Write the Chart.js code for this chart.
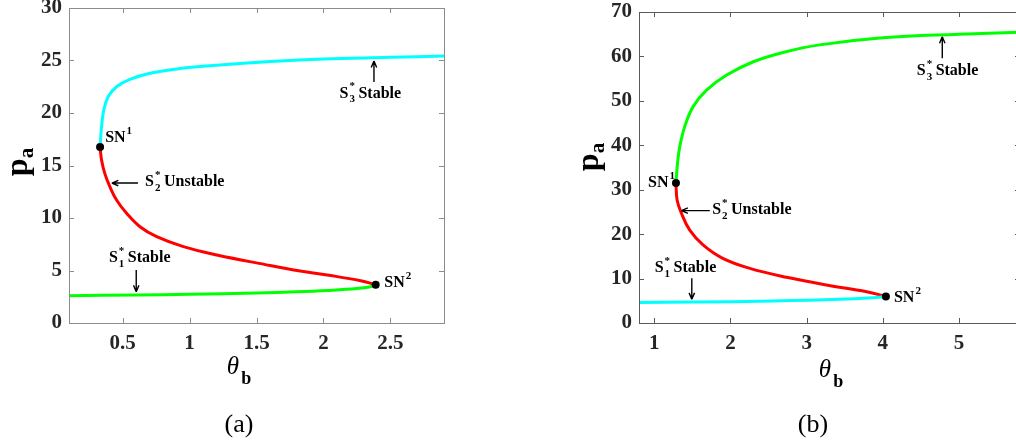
<!DOCTYPE html>
<html>
<head>
<meta charset="utf-8">
<title>Bifurcation diagrams</title>
<script src="https://cdn.jsdelivr.net/npm/chart.js@4.4.1/dist/chart.umd.min.js"></script>
<style>
html, body { margin: 0; padding: 0; background: #fff; overflow: hidden; width: 1016px; height: 447px; }
canvas { position: absolute; top: 0; }
#chartA { left: 0; }
#chartB { left: 540px; }
</style>
</head>
<body>
<canvas id="chartA" width="460" height="447"></canvas>
<canvas id="chartB" width="500" height="447"></canvas>
<script>
// ---- panel (a) ----
var xTicksA = [0.5, 1, 1.5, 2, 2.5];
var xTickLabelsA = ['0.5', '1', '1.5', '2', '2.5'];
var yTicksA = [0, 5, 10, 15, 20, 25, 30];
var yTickLabelsA = ['0', '5', '10', '15', '20', '25', '30'];

// S1* (lower stable branch)
var s1ThetaA = [0.1, 0.6, 1.0, 1.5, 1.8, 2.03, 2.25, 2.35, 2.39];
var s1PaA    = [2.6, 2.67, 2.73, 2.85, 2.97, 3.1, 3.28, 3.45, 3.65];
// S2* (unstable branch)
var s2ThetaA = [0.332, 0.343, 0.367, 0.405, 0.455, 0.53, 0.63, 0.755, 0.954, 1.204, 1.6, 1.778, 2.028, 2.278, 2.39];
var s2PaA    = [16.76, 15.52, 14.25, 12.98, 11.71, 10.45, 9.17, 8.22, 7.27, 6.48, 5.48, 5.05, 4.57, 4.03, 3.65];
// S3* (upper stable branch)
var s3ThetaA = [0.332, 0.343, 0.36, 0.392, 0.455, 0.555, 0.705, 0.905, 1.154, 1.603, 2.0, 2.5, 2.9];
var s3PaA    = [16.76, 18.7, 20.3, 21.55, 22.5, 23.2, 23.78, 24.19, 24.5, 24.9, 25.15, 25.3, 25.43];
// saddle-node points
var snThetaA = [0.332, 2.39];
var snPaA    = [16.76, 3.65];

// ---- panel (b) ----
var xTicksB = [1, 2, 3, 4, 5];
var xTickLabelsB = ['1', '2', '3', '4', '5'];
var yTicksB = [0, 10, 20, 30, 40, 50, 60, 70];
var yTickLabelsB = ['0', '10', '20', '30', '40', '50', '60', '70'];

var s1ThetaB = [0.8, 1.47, 2.56, 3.44, 3.875, 4.04];
var s1PaB    = [4.6, 4.7, 4.95, 5.33, 5.7, 5.95];
var s2ThetaB = [1.285, 1.30, 1.357, 1.466, 1.64, 1.90, 2.255, 2.737, 3.26, 3.788, 4.04];
var s2PaB    = [31.5, 27.7, 24.7, 20.9, 17.6, 14.56, 12.3, 10.28, 8.55, 7.05, 5.95];
var s3ThetaB = [1.285, 1.305, 1.335, 1.40, 1.51, 1.686, 1.95, 2.30, 2.69, 3.17, 4.0, 5.0, 5.8];
var s3PaB    = [31.5, 35.9, 39.7, 44.2, 48.7, 52.4, 55.8, 58.8, 60.9, 62.6, 64.2, 65.0, 65.45];
var snThetaB = [1.285, 4.04];
var snPaB    = [31.5, 5.95];

// annotations, in data units
var notesA = {
  sn: [{ x: 0.37, y: 17.6, n: '1' }, { x: 2.454, y: 3.8, n: '2' }],
  states: [
    { x: 0.668, y: 13.4, n: '2', word: 'Unstable' },
    { x: 0.398, y: 6.2, n: '1', word: 'Stable' },
    { x: 2.12, y: 21.85, n: '3', word: 'Stable' }
  ],
  arrows: [
    { x1: 0.615, y1: 13.33, x2: 0.42, y2: 13.33 },
    { x1: 0.602, y1: 5.05, x2: 0.602, y2: 2.98 },
    { x1: 2.377, y1: 22.95, x2: 2.377, y2: 24.95 }
  ]
};
var notesB = {
  sn: [{ x: 0.918, y: 31.5, n: '1' }, { x: 4.146, y: 5.7, n: '2' }],
  states: [
    { x: 1.76, y: 25.4, n: '2', word: 'Unstable' },
    { x: 1.006, y: 12.45, n: '1', word: 'Stable' },
    { x: 4.445, y: 56.7, n: '3', word: 'Stable' }
  ],
  arrows: [
    { x1: 1.729, y1: 25.3, x2: 1.357, y2: 25.3 },
    { x1: 1.493, y1: 10.06, x2: 1.493, y2: 5.33 },
    { x1: 4.78, y1: 59.58, x2: 4.78, y2: 64.44 }
  ]
};

function pts(xs, ys) {
  return xs.map(function (x, i) { return { x: x, y: ys[i] }; });
}

var BOLD = 'bold 16px "Liberation Serif"';
var SMALL = 'bold 11px "Liberation Serif"';

function drawArrow(ctx, x1, y1, x2, y2) {
  var ang = Math.atan2(y2 - y1, x2 - x1);
  ctx.beginPath();
  ctx.moveTo(x1, y1);
  ctx.lineTo(x2, y2);
  ctx.moveTo(x2, y2);
  ctx.lineTo(x2 - 7 * Math.cos(ang - 0.4), y2 - 7 * Math.sin(ang - 0.4));
  ctx.moveTo(x2, y2);
  ctx.lineTo(x2 - 7 * Math.cos(ang + 0.4), y2 - 7 * Math.sin(ang + 0.4));
  ctx.stroke();
}

// box, inward ticks, labels and captions
var figDecor = {
  id: 'figDecor',
  afterDatasetsDraw: function (chart, args, o) {
    var ctx = chart.ctx, a = chart.chartArea;
    var xs = chart.scales.x, ys = chart.scales.y;
    ctx.save();
    ctx.strokeStyle = o.axisColor;
    ctx.lineWidth = 1;
    ctx.strokeRect(Math.round(a.left) + 0.5, Math.round(a.top) + 0.5,
      Math.round(a.right - a.left), Math.round(a.bottom - a.top));
    ctx.beginPath();
    xs.ticks.forEach(function (t) {
      var px = Math.round(xs.getPixelForValue(t.value)) + 0.5;
      ctx.moveTo(px, a.bottom); ctx.lineTo(px, a.bottom - o.tick);
      ctx.moveTo(px, a.top); ctx.lineTo(px, a.top + o.tick);
    });
    ys.ticks.forEach(function (t) {
      var py = Math.round(ys.getPixelForValue(t.value)) + 0.5;
      ctx.moveTo(a.left, py); ctx.lineTo(a.left + o.tick, py);
      ctx.moveTo(a.right, py); ctx.lineTo(a.right - o.tick, py);
    });
    ctx.stroke();

    ctx.fillStyle = '#000';
    ctx.strokeStyle = '#000';
    ctx.lineWidth = 1.4;
    ctx.textBaseline = 'middle';
    ctx.textAlign = 'left';
    o.notes.arrows.forEach(function (r) {
      drawArrow(ctx, xs.getPixelForValue(r.x1), ys.getPixelForValue(r.y1),
        xs.getPixelForValue(r.x2), ys.getPixelForValue(r.y2));
    });
    o.notes.sn.forEach(function (s) {
      var px = xs.getPixelForValue(s.x), py = ys.getPixelForValue(s.y);
      ctx.font = BOLD;
      ctx.fillText('SN', px, py);
      var w = ctx.measureText('SN').width;
      ctx.font = SMALL;
      ctx.fillText(s.n, px + w + 1, py - 7);
    });
    o.notes.states.forEach(function (s) {
      var px = xs.getPixelForValue(s.x), py = ys.getPixelForValue(s.y);
      ctx.font = BOLD;
      ctx.fillText('S', px, py);
      var w = ctx.measureText('S').width;
      ctx.font = SMALL;
      ctx.fillText('*', px + w + 1, py - 7);
      ctx.fillText(s.n, px + w + 1, py + 6);
      ctx.font = BOLD;
      ctx.fillText(s.word, px + w + 10, py);
    });

    // y title p_a
    ctx.save();
    ctx.translate(o.yTitle[0], o.yTitle[1]);
    ctx.rotate(-Math.PI / 2);
    ctx.textAlign = 'left';
    ctx.textBaseline = 'alphabetic';
    ctx.font = 'bold 32px "Liberation Serif"';
    var pw = ctx.measureText('p').width;
    ctx.font = 'bold 21px "Liberation Serif"';
    var aw = ctx.measureText('a').width;
    ctx.font = 'bold 32px "Liberation Serif"';
    ctx.fillText('p', -(pw + aw) / 2, 8);
    ctx.font = 'bold 21px "Liberation Serif"';
    ctx.fillText('a', -(pw + aw) / 2 + pw, 14);
    ctx.restore();

    // x title theta_b
    ctx.textBaseline = 'alphabetic';
    ctx.font = 'italic 25px "Liberation Serif"';
    var tw = ctx.measureText('\u03b8').width;
    ctx.font = 'bold 18px "Liberation Serif"';
    var bw = ctx.measureText('b').width;
    var x0 = o.xTitle[0] - (tw + bw + 2) / 2;
    ctx.font = 'italic 25px "Liberation Serif"';
    ctx.fillText('\u03b8', x0, o.xTitle[1]);
    ctx.font = 'bold 18px "Liberation Serif"';
    ctx.fillText('b', x0 + tw + 2, o.xTitle[1] + 10);

    // panel caption
    ctx.textAlign = 'center';
    ctx.textBaseline = 'middle';
    ctx.font = '26px "Liberation Serif"';
    ctx.fillText(o.caption, o.capPos[0], o.capPos[1]);
    ctx.restore();
  }
};

function makePanel(id, d) {
  return new Chart(document.getElementById(id), {
    type: 'scatter',
    data: {
      datasets: [
        { data: pts(d.snX, d.snY), showLine: false, pointRadius: 4, pointBackgroundColor: '#000', pointBorderWidth: 0 },
        { data: pts(d.s1X, d.s1Y), showLine: true, borderColor: d.c1, borderWidth: 3, pointRadius: 0, tension: 0.4 },
        { data: pts(d.s2X, d.s2Y), showLine: true, borderColor: '#ff0000', borderWidth: 3, pointRadius: 0, tension: 0.4 },
        { data: pts(d.s3X, d.s3Y), showLine: true, borderColor: d.c3, borderWidth: 3, pointRadius: 0, tension: 0.4 }
      ]
    },
    options: {
      responsive: false,
      animation: false,
      layout: { padding: d.pad },
      plugins: {
        legend: { display: false },
        tooltip: { enabled: false },
        figDecor: d.decor
      },
      scales: {
        x: {
          type: 'linear', min: d.xMin, max: d.xMax,
          grid: { display: false, drawTicks: false },
          border: { display: false },
          afterBuildTicks: function (s) { s.ticks = d.xTicks.map(function (v) { return { value: v }; }); },
          afterFit: function (s) { s.height = d.xAxisH; s.paddingLeft = 0; s.paddingRight = 0; },
          ticks: {
            autoSkip: false, maxRotation: 0, padding: 8, color: '#262626',
            font: { family: 'Liberation Serif', size: 21, weight: 'bold' },
            callback: function (v, i) { return d.xLabels[i]; }
          }
        },
        y: {
          type: 'linear', min: d.yMin, max: d.yMax,
          grid: { display: false, drawTicks: false },
          border: { display: false },
          afterBuildTicks: function (s) { s.ticks = d.yTicks.map(function (v) { return { value: v }; }); },
          afterFit: function (s) { s.width = d.yAxisW; s.paddingTop = 0; s.paddingBottom = 0; },
          ticks: {
            autoSkip: false, padding: 7, color: '#262626',
            font: { family: 'Liberation Serif', size: 21, weight: 'bold' },
            callback: function (v, i) { return d.yLabels[i]; }
          }
        }
      }
    },
    plugins: [figDecor]
  });
}

makePanel('chartA', {
  snX: snThetaA, snY: snPaA, s1X: s1ThetaA, s1Y: s1PaA, s2X: s2ThetaA, s2Y: s2PaA, s3X: s3ThetaA, s3Y: s3PaA,
  c1: '#00ff00', c3: '#00ffff',
  xMin: 0.1, xMax: 2.9, yMin: 0, yMax: 30,
  xTicks: xTicksA, xLabels: xTickLabelsA, yTicks: yTicksA, yLabels: yTickLabelsA,
  pad: { left: 0, right: 16, top: 8, bottom: 0 }, xAxisH: 124, yAxisW: 69,
  decor: { axisColor: '#8c8c8c', tick: 5, notes: notesA, yTitle: [19, 162], xTitle: [239, 374], caption: '(a)', capPos: [239, 425] }
});

makePanel('chartB', {
  snX: snThetaB, snY: snPaB, s1X: s1ThetaB, s1Y: s1PaB, s2X: s2ThetaB, s2Y: s2PaB, s3X: s3ThetaB, s3Y: s3PaB,
  c1: '#00ffff', c3: '#00ff00',
  xMin: 0.8, xMax: 5.8, yMin: 0, yMax: 70,
  xTicks: xTicksB, xLabels: xTickLabelsB, yTicks: yTicksB, yLabels: yTickLabelsB,
  pad: { left: 0, right: 20, top: 12, bottom: 0 }, xAxisH: 124, yAxisW: 99,
  decor: { axisColor: '#5a5a5a', tick: 5, notes: notesB, yTitle: [50, 157], xTitle: [291, 377], caption: '(b)', capPos: [273, 425] }
});
</script>
</body>
</html>
